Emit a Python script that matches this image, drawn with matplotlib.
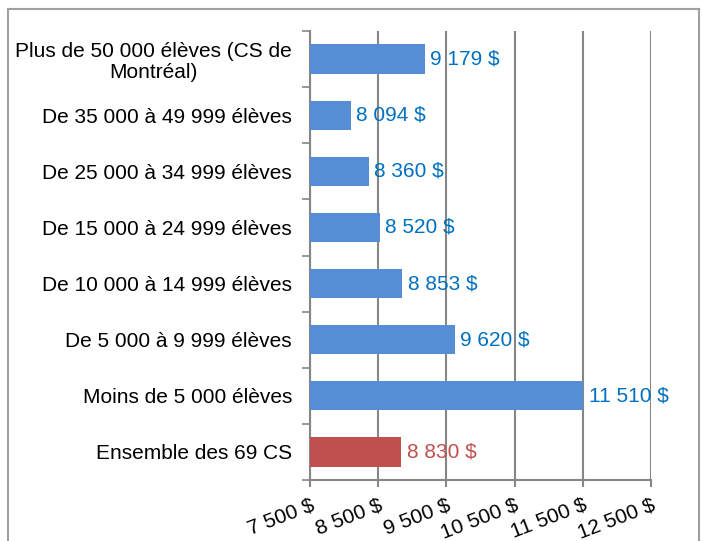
import matplotlib.pyplot as plt
from matplotlib.lines import Line2D

plt.rcParams['font.family'] = ['Liberation Sans', 'DejaVu Sans']

categories = ['Plus de 50 000 élèves (CS de\nMontréal)',
              'De 35 000 à 49 999 élèves',
              'De 25 000 à 34 999 élèves',
              'De 15 000 à 24 999 élèves',
              'De 10 000 à 14 999 élèves',
              'De 5 000 à 9 999 élèves',
              'Moins de 5 000 élèves',
              'Ensemble des 69 CS']
values = [9179, 8094, 8360, 8520, 8853, 9620, 11510, 8830]
value_labels = ['9 179 $', '8 094 $', '8 360 $', '8 520 $', '8 853 $', '9 620 $', '11 510 $', '8 830 $']
x_ticks = [7500, 8500, 9500, 10500, 11500, 12500]
x_tick_labels = ['7 500 $', '8 500 $', '9 500 $', '10 500 $', '11 500 $', '12 500 $']

bar_colors = ['#558ED5'] * 7 + ['#C0504D']
text_colors = ['#0070C0'] * 7 + ['#C0504D']

fig = plt.figure(figsize=(7.02, 5.41), dpi=100)
ax = fig.add_axes([310 / 702, 1 - 480 / 541, 341 / 702, 449 / 541])

pos = list(range(len(categories)))
ax.barh(pos, [v - 7500 for v in values], left=7500, height=0.52, color=bar_colors, zorder=3)
for p, v, lab, c in zip(pos, values, value_labels, text_colors):
    ax.text(v + 85, p, lab, color=c, fontsize=15, va='center', ha='left', zorder=4)

ax.set_xlim(7500, 12500)
ax.set_ylim(len(categories) - 0.5, -0.5)
ax.set_xticks(x_ticks)
ax.set_xticklabels(x_tick_labels, rotation=21, ha='right', rotation_mode='anchor', fontsize=15)
ax.set_yticks(pos)
ax.set_yticklabels(categories, fontsize=15, multialignment='center', linespacing=1.15)
ax.tick_params(axis='y', length=0, pad=13)
ax.tick_params(axis='x', length=5, width=1.5, color='#868686', pad=6)
# category boundary ticks on the y axis
ax.set_yticks([p + 0.5 for p in range(-1, len(categories))], minor=True)
ax.tick_params(axis='y', which='minor', length=6, width=1.2, color='#868686')

ax.grid(axis='x', color='#868686', linewidth=1.5, zorder=0)
for s in ['top', 'right']:
    ax.spines[s].set_visible(False)
for s in ['left', 'bottom']:
    ax.spines[s].set_color('#868686')
    ax.spines[s].set_linewidth(1.5)

# figure border
bc = '#A0A0A0'
fig.add_artist(Line2D([8 / 702, 8 / 702], [0, 1 - 9 / 541], transform=fig.transFigure, color=bc, lw=1.5))
fig.add_artist(Line2D([8 / 702, 699 / 702], [1 - 9 / 541, 1 - 9 / 541], transform=fig.transFigure, color=bc, lw=1.5))
fig.add_artist(Line2D([699 / 702, 699 / 702], [0, 1 - 9 / 541], transform=fig.transFigure, color=bc, lw=1.5))

fig.savefig('out.png', dpi=100)
